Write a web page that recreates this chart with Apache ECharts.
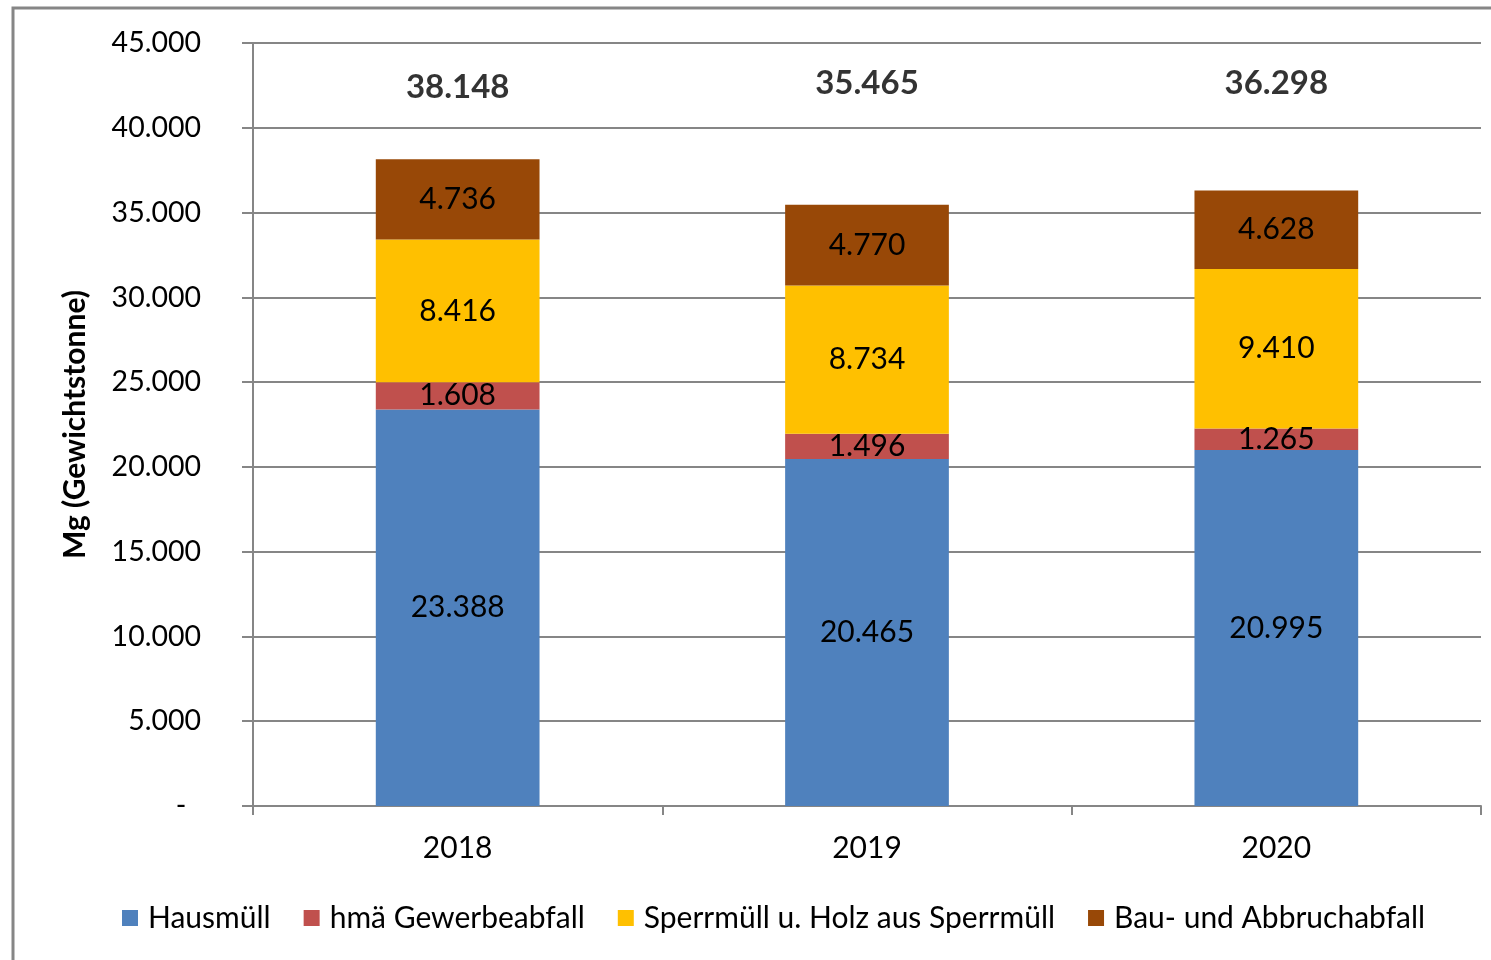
<!DOCTYPE html>
<html>
<head>
<meta charset="utf-8">
<script src="https://cdn.jsdelivr.net/npm/echarts@6/dist/echarts.min.js"></script>
<style>
  html, body { margin: 0; padding: 0; background: #fff; }
  #chart { width: 1491px; height: 960px; }
</style>
</head>
<body>
<div id="chart"></div>
<script>
var years = ['2018', '2019', '2020'];
var hausmuell = [23388, 20465, 20995];
var gewerbe = [1608, 1496, 1265];
var sperrmuell = [8416, 8734, 9410];
var bauabfall = [4736, 4770, 4628];
var totals = [38148, 35465, 36298];
var totalLabelPos = [42400, 42600, 42600];

var font = 'Lato';

function de(v) {
    if (v === 0) return '-  ';
    return String(v).replace(/\B(?=(\d{3})+(?!\d))/g, '.');
}

function seg(name, data, color) {
    return {
        name: name,
        type: 'bar',
        stack: 'total',
        barWidth: '40%',
        data: data,
        itemStyle: { color: color },
        label: {
            show: true,
            position: 'inside',
            color: '#000',
            fontFamily: font,
            fontSize: 30,
            formatter: function (p) { return de(p.value); }
        }
    };
}

var chart = echarts.init(document.getElementById('chart'));
chart.setOption({
    animation: false,
    textStyle: { fontFamily: font },
    graphic: [{
        type: 'rect',
        shape: { x: 13, y: 8, width: 1600, height: 1100 },
        style: { fill: 'none', stroke: '#868686', lineWidth: 3 },
        silent: true
    }],
    grid: { left: 253, right: 10, top: 43, bottom: 154 },
    legend: {
        bottom: 22,
        left: 117,
        itemWidth: 16,
        itemHeight: 16,
        itemGap: 33,
        icon: 'rect',
        textStyle: { fontSize: 30, color: '#000', fontFamily: font, padding: [0, 0, 0, 5] },
        data: ['Hausmüll', 'hmä Gewerbeabfall', 'Sperrmüll u. Holz aus Sperrmüll', 'Bau- und Abbruchabfall']
    },
    xAxis: {
        type: 'category',
        data: years,
        axisLine: { lineStyle: { color: '#868686', width: 2 } },
        axisTick: { show: true, length: 9, lineStyle: { color: '#868686', width: 2 } },
        axisLabel: { color: '#000', fontSize: 30, margin: 27, fontFamily: font }
    },
    yAxis: {
        type: 'value',
        min: 0,
        max: 45000,
        interval: 5000,
        name: 'Mg (Gewichtstonne)',
        nameLocation: 'middle',
        nameGap: 163,
        nameTextStyle: { color: '#000', fontSize: 30, fontWeight: 'bold', fontFamily: font },
        axisLine: { show: true, lineStyle: { color: '#868686', width: 2 } },
        axisTick: { show: true, length: 11, lineStyle: { color: '#868686', width: 2 } },
        splitLine: { lineStyle: { color: '#868686', width: 2 } },
        axisLabel: { color: '#000', fontSize: 28.5, margin: 52, fontFamily: font, formatter: de }
    },
    series: [
        seg('Hausmüll', hausmuell, '#4F81BD'),
        seg('hmä Gewerbeabfall', gewerbe, '#C0504D'),
        seg('Sperrmüll u. Holz aus Sperrmüll', sperrmuell, '#FFC000'),
        seg('Bau- und Abbruchabfall', bauabfall, '#984807'),
        {
            name: 'Summe',
            type: 'scatter',
            symbolSize: 0,
            data: totalLabelPos,
            silent: true,
            label: {
                show: true,
                position: 'inside',
                color: '#000',
                fontFamily: font,
                fontSize: 33,
                fontWeight: 'bold',
                formatter: function (p) { return de(totals[p.dataIndex]); }
            }
        }
    ]
});
</script>
</body>
</html>
